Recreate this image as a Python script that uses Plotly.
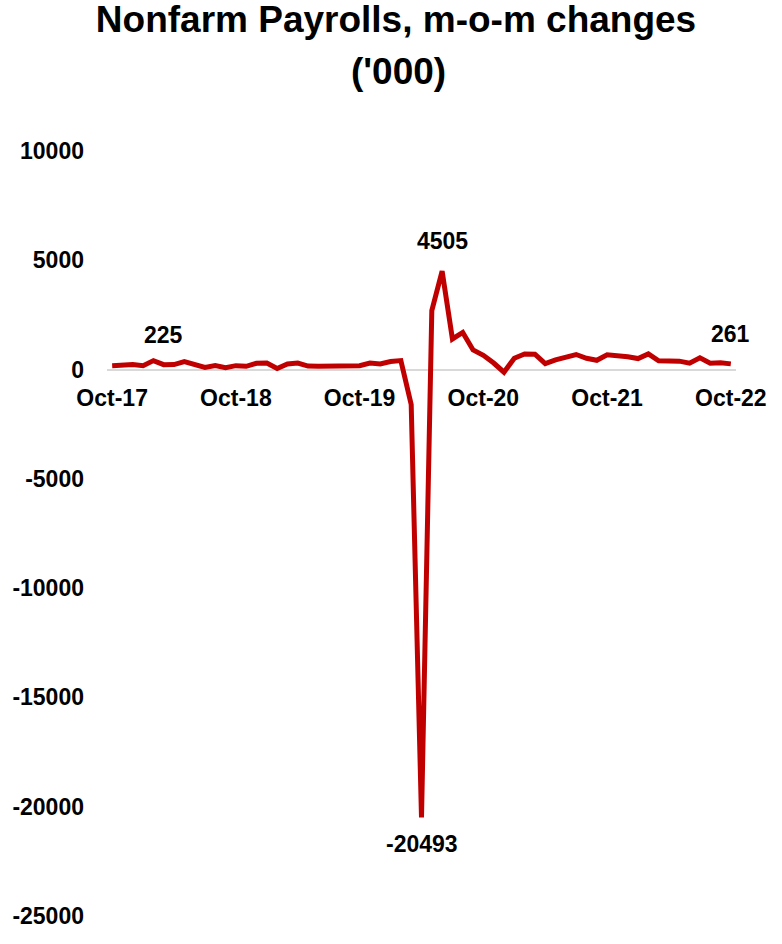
import pandas as pd
import plotly.graph_objects as go

# Monthly nonfarm payroll changes, thousands (Oct-2017 .. Oct-2022)
months = pd.date_range("2017-10-01", "2022-10-01", freq="MS").strftime("%b-%y").tolist()
payroll_change = [
    180, 220, 230, 180, 410, 225, 230, 370, 230, 100,
    180, 90, 180, 150, 290, 300, 50, 260, 300, 160,
    150, 150, 200, 200, 180, 300, 260, 370, 410, -1600,
    -20493, 2700, 4505, 1400, 1700, 900, 650, 300, -120, 520,
    710, 704, 269, 447, 557, 689, 517, 424, 677, 647,
    588, 504, 714, 398, 368, 386, 293, 537, 292, 315,
    261,
]
x_tick_labels = ["Oct-17", "Oct-18", "Oct-19", "Oct-20", "Oct-21", "Oct-22"]
y_ticks = [10000, 5000, 0, -5000, -10000, -15000, -20000, -25000]

# Points that carry a value label: index -> vertical offset in px
labelled = {5: 30, 32: 30, 30: -27, 60: 30}

FONT = "Arial, Liberation Sans, sans-serif"
RED = "#C00000"
y_min, y_max = -25000, 10000

W, H = 782, 944
M_L, M_R, M_T, M_B = 102, 46, 151, 28
plot_w, plot_h = W - M_L - M_R, H - M_T - M_B

fig = go.Figure()
fig.add_trace(go.Scatter(
    x=months, y=payroll_change, mode="lines",
    line=dict(color=RED, width=5), hoverinfo="x+y",
))

for i, shift in labelled.items():
    fig.add_annotation(
        x=months[i], y=payroll_change[i], text=f"<b>{payroll_change[i]}</b>",
        showarrow=False, yshift=shift,
        font=dict(family=FONT, size=23, color="black"),
    )

# second title line, set a little tighter than the default line spacing
fig.add_annotation(
    xref="paper", yref="paper",
    x=(396 - M_L) / plot_w, y=(H - M_B - 72) / plot_h,
    xanchor="center", yanchor="middle", showarrow=False,
    text="<b>('000)</b>",
    font=dict(family=FONT, size=37, color="black"),
)

fig.update_layout(
    width=W, height=H,
    margin=dict(l=M_L, r=M_R, t=M_T, b=M_B),
    paper_bgcolor="white", plot_bgcolor="white",
    showlegend=False,
    title=dict(
        text="<b>Nonfarm Payrolls, m-o-m changes</b>",
        x=396 / W, xanchor="center", xref="container",
        y=1 - 6 / H, yanchor="top", yref="container",
        font=dict(family=FONT, size=37, color="black"),
    ),
    xaxis=dict(
        type="category", range=[-0.5, len(months) - 0.5],
        tickmode="array", tickvals=x_tick_labels, ticktext=x_tick_labels,
        showgrid=False, showline=False, ticks="", zeroline=False,
        anchor="free", position=(0 - y_min) / (y_max - y_min),
        ticklabelstandoff=12,
        tickfont=dict(family=FONT, size=23, color="black", weight="bold"),
    ),
    yaxis=dict(
        range=[y_min, y_max], tickmode="array",
        tickvals=y_ticks, ticktext=[str(v) for v in y_ticks],
        showgrid=False, showline=False, ticks="",
        zeroline=True, zerolinecolor="#d9d9d9", zerolinewidth=2,
        ticklabelstandoff=22,
        tickfont=dict(family=FONT, size=23, color="black", weight="bold"),
    ),
)

fig.write_html("out.html")
